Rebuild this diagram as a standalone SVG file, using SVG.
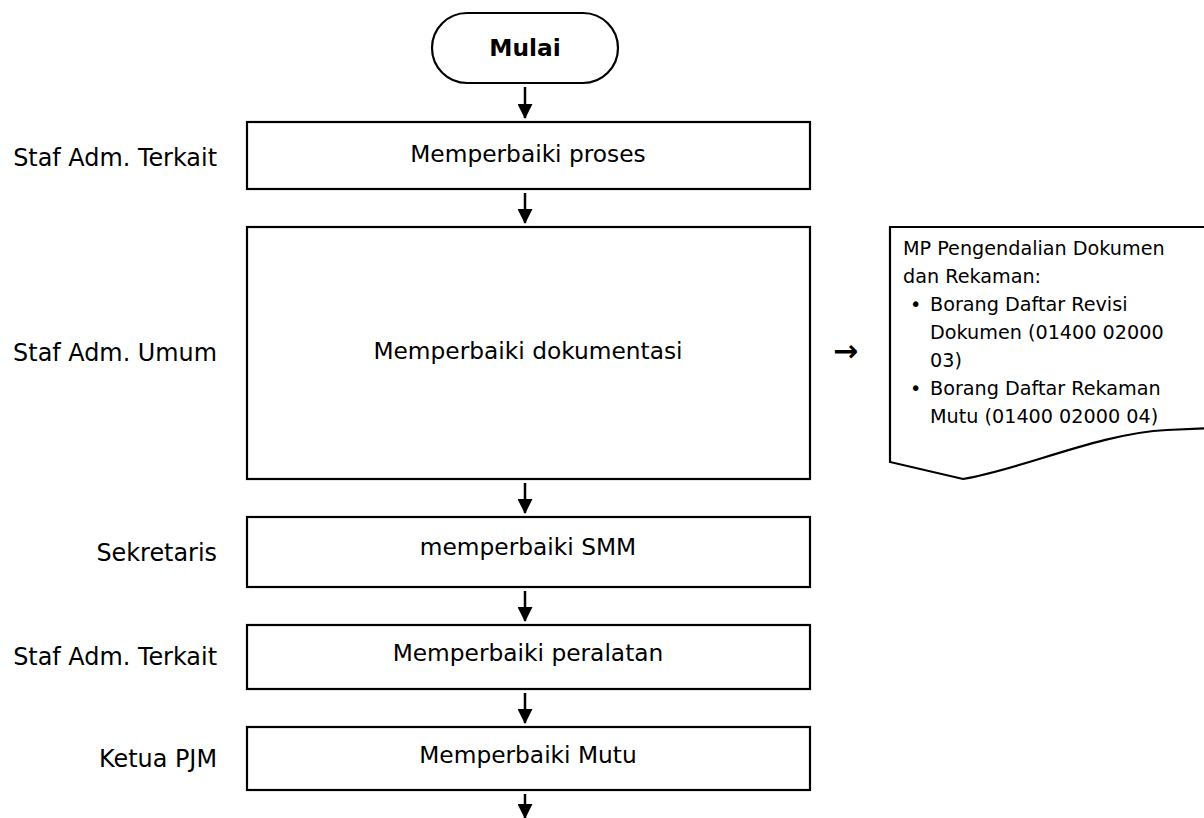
<svg xmlns="http://www.w3.org/2000/svg" width="1204" height="818" viewBox="0 0 1204 818">
  <style>
    .box { fill: #ffffff; stroke: #000000; stroke-width: 2.2; }
    .txt { font-family: "DejaVu Sans", Verdana, sans-serif; font-size: 23.3px; fill: #000000; }
    .mid { text-anchor: middle; }
    .lane { text-anchor: end; font-size: 23.9px; }
    .doc { font-family: "DejaVu Sans", Verdana, sans-serif; font-size: 19.2px; fill: #000000; }
    .flow { stroke: #000000; stroke-width: 2.5; fill: none; }
  </style>
  <defs>
    <marker id="head" markerWidth="6" markerHeight="6" refX="5.6" refY="3" orient="auto" markerUnits="strokeWidth">
      <path d="M0,0 L6,3 L0,6 Z" fill="#000000"/>
    </marker>
  </defs>

  <rect width="1204" height="818" fill="#ffffff"/>

  <!-- start terminal -->
  <g id="start">
    <rect class="box" x="432" y="13" width="186" height="70" rx="35" ry="35"/>
    <text class="txt mid" x="525" y="56" font-weight="bold" font-size="22.8">Mulai</text>
  </g>

  <!-- lane labels -->
  <g id="lanes">
    <text class="txt lane" x="217" y="166">Staf Adm. Terkait</text>
    <text class="txt lane" x="217" y="361">Staf Adm. Umum</text>
    <text class="txt lane" x="217" y="561">Sekretaris</text>
    <text class="txt lane" x="217" y="665">Staf Adm. Terkait</text>
    <text class="txt lane" x="217" y="767">Ketua PJM</text>
  </g>

  <!-- process steps -->
  <g id="step1">
    <rect class="box" x="247" y="122" width="563" height="67"/>
    <text class="txt mid" x="528" y="162">Memperbaiki proses</text>
  </g>
  <g id="step2">
    <rect class="box" x="247" y="227" width="563" height="252"/>
    <text class="txt mid" x="528" y="359">Memperbaiki dokumentasi</text>
  </g>
  <g id="step3">
    <rect class="box" x="247" y="517" width="563" height="70"/>
    <text class="txt mid" x="528" y="555">memperbaiki SMM</text>
  </g>
  <g id="step4">
    <rect class="box" x="247" y="625" width="563" height="64"/>
    <text class="txt mid" x="528" y="661">Memperbaiki peralatan</text>
  </g>
  <g id="step5">
    <rect class="box" x="247" y="727" width="563" height="63"/>
    <text class="txt mid" x="528" y="763">Memperbaiki Mutu</text>
  </g>

  <!-- reference document (right edge runs past the canvas) -->
  <g id="document">
    <path class="box" d="M890,227 L1212,227 L1212,428 L1167,430 C1100,433 1020,470 963,479 L890,462 Z"/>
    <text class="doc" x="903" y="255">MP Pengendalian Dokumen</text>
    <text class="doc" x="903" y="283">dan Rekaman:</text>
    <text class="doc" x="910" y="311">•</text>
    <text class="doc" x="930" y="311">Borang Daftar Revisi</text>
    <text class="doc" x="930" y="339">Dokumen (01400 02000</text>
    <text class="doc" x="930" y="367">03)</text>
    <text class="doc" x="910" y="395">•</text>
    <text class="doc" x="930" y="395">Borang Daftar Rekaman</text>
    <text class="doc" x="930" y="423">Mutu (01400 02000 04)</text>
  </g>

  <!-- pointer from documentation step to reference document -->
  <g id="doc-pointer">
    <text x="833" y="361" font-family="DejaVu Sans, sans-serif" font-size="30" font-weight="bold" fill="#000000">→</text>
  </g>

  <!-- flow connectors -->
  <g id="connectors">
    <line class="flow" x1="525" y1="87" x2="525" y2="118" marker-end="url(#head)"/>
    <line class="flow" x1="525" y1="193" x2="525" y2="223" marker-end="url(#head)"/>
    <line class="flow" x1="525" y1="483" x2="525" y2="513" marker-end="url(#head)"/>
    <line class="flow" x1="525" y1="591" x2="525" y2="621" marker-end="url(#head)"/>
    <line class="flow" x1="525" y1="693" x2="525" y2="723" marker-end="url(#head)"/>
    <line class="flow" x1="525" y1="794" x2="525" y2="818" marker-end="url(#head)"/>
  </g>
</svg>
